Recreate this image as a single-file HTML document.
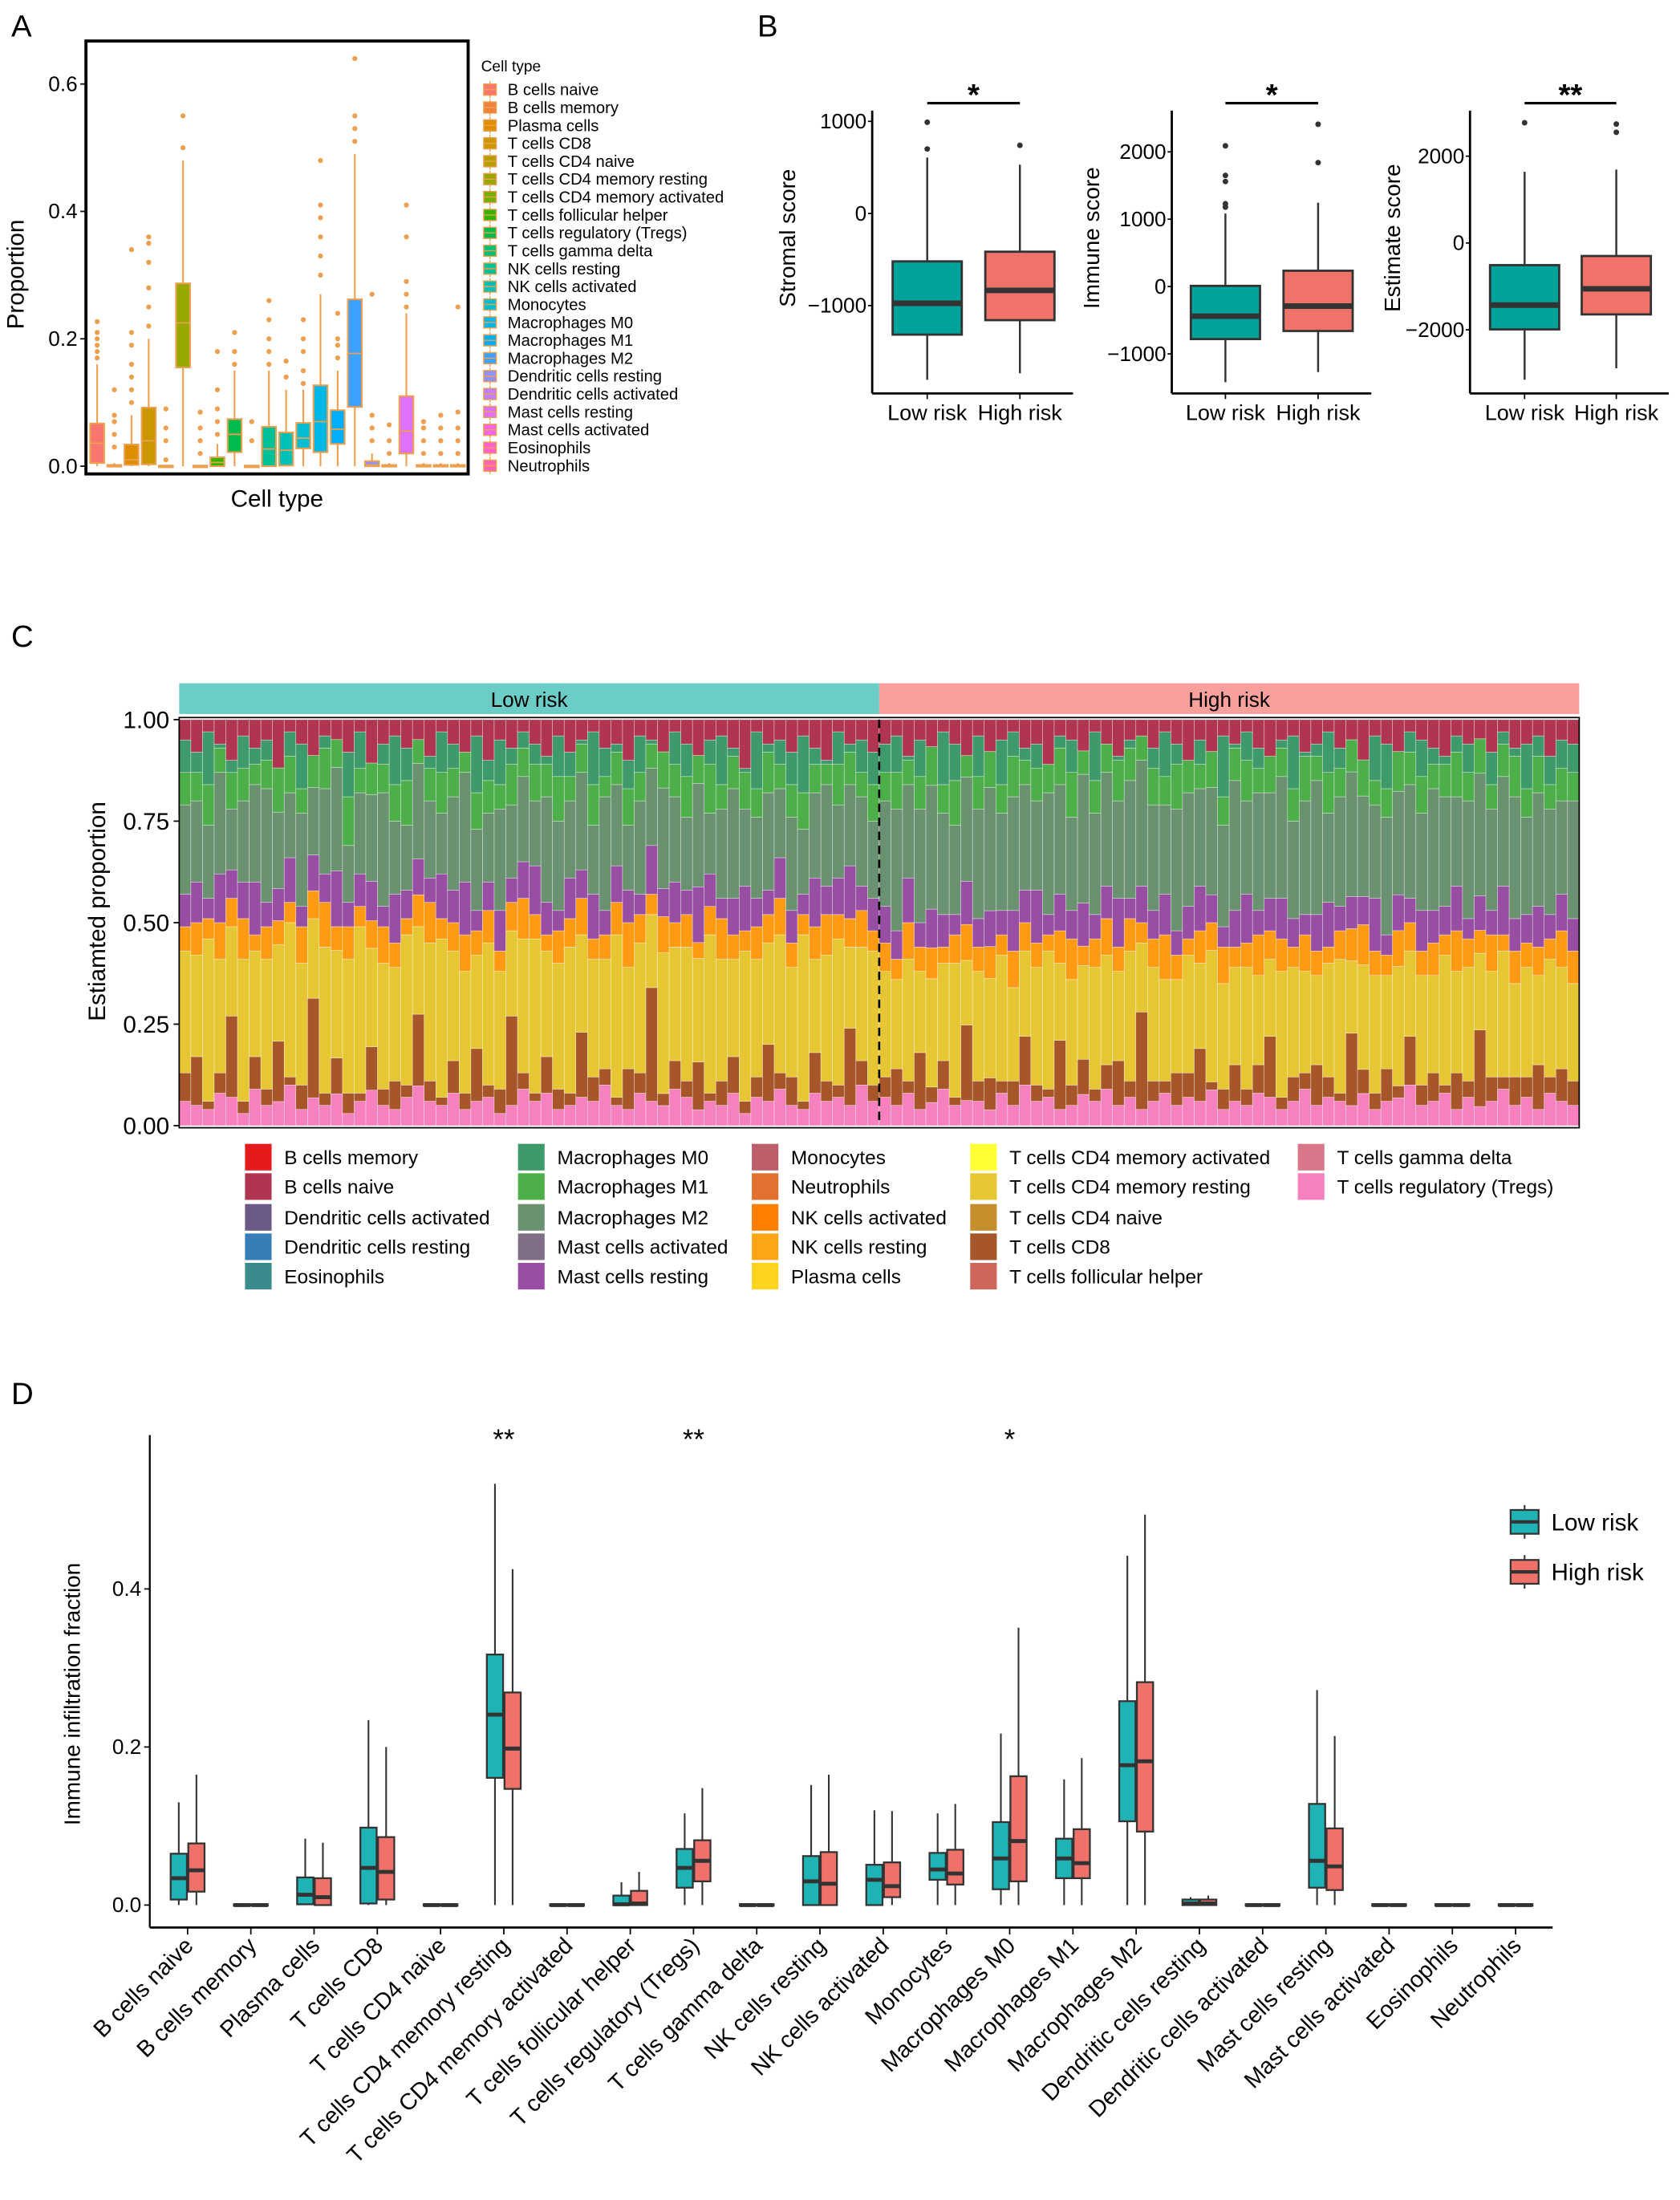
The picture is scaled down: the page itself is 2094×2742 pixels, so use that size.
<!DOCTYPE html>
<html><head><meta charset="utf-8"><style>
html,body{margin:0;padding:0;background:#fff}
svg{display:block;font-family:"Liberation Sans",Arial,sans-serif}
</style></head><body>
<svg id="fig" width="2094" height="2742" viewBox="0 0 1200 1571.35" preserveAspectRatio="none" xmlns="http://www.w3.org/2000/svg">
<rect width="1200" height="1571.35" fill="#fff"/>
<g id="pA"></g>
<g id="pB"></g>
<g id="pC"></g>
<g id="pD"></g>
</svg>
<script>
// ---------- Panel A data ----------
const cellTypes = ["B cells naive","B cells memory","Plasma cells","T cells CD8","T cells CD4 naive","T cells CD4 memory resting","T cells CD4 memory activated","T cells follicular helper","T cells regulatory (Tregs)","T cells gamma delta","NK cells resting","NK cells activated","Monocytes","Macrophages M0","Macrophages M1","Macrophages M2","Dendritic cells resting","Dendritic cells activated","Mast cells resting","Mast cells activated","Eosinophils","Neutrophils"];
const aQ1  = [.005,0,.002,.003,0,.155,0,0,.022,0,0,.001,.028,.022,.035,.093,0,0,.02,0,0,0];
const aMed = [.036,0,.01,.04,0,.225,0,.006,.05,0,.027,.025,.044,.07,.058,.177,.002,0,.055,0,0,0];
const aQ3  = [.067,.002,.034,.092,.001,.287,.001,.014,.074,.001,.062,.053,.068,.127,.088,.262,.008,.002,.11,.002,.002,.002];
const aMax = [.16,.005,.08,.2,.002,.48,.002,.035,.15,.002,.15,.12,.12,.27,.15,.49,.02,.005,.24,.005,.005,.005];
const aOut = [[.17,.18,.19,.2,.21,.227],[.03,.05,.07,.08,.12],[.1,.12,.14,.16,.19,.21,.34],[.22,.25,.28,.32,.35,.36],[.01,.04,.06,.09],[.5,.55],[.02,.04,.06,.085],[.05,.07,.09,.12,.18],[.16,.18,.21],[.04,.07],[.16,.18,.2,.23,.26],[.14,.165],[.13,.15,.18,.2,.23],[.3,.33,.36,.39,.41,.48],[.17,.19,.2,.24],[.51,.53,.55,.64],[.04,.06,.08,.27],[.02,.04,.065],[.25,.27,.29,.36,.41],[.02,.04,.06,.07],[.02,.04,.06,.08],[.02,.04,.06,.085,.25]];
const aTicks = [0,0.2,0.4,0.6];

// ---------- Panel B data ----------
const bTitles = ["Stromal score","Immune score","Estimate score"];
const bStars = ["*","*","**"];
const bGroups = ["Low risk","High risk"];
const bLowStats  = [[-1805,-1315,-975,-520,607],[-1420,-780,-440,10,1085],[-3150,-1990,-1430,-510,1640]];
const bHighStats = [[-1735,-1158,-835,-415,530],[-1270,-660,-290,235,1245],[-2885,-1645,-1055,-300,1690]];
const bLowOut  = [[990,700],[2090,1650,1560,1230,1180],[2770]];
const bHighOut = [[740],[2410,1840],[2740,2550]];
const bTicks = [[-1000,0,1000],[-1000,0,1000,2000],[-2000,0,2000]];

// ---------- Panel C data (per-sample fractions) ----------
const cTregs = [.06,.05,.04,.08,.07,.03,.09,.05,.06,.10,.04,.07,.05,.08,.03,.06,.09,.05,.04,.07,.10,.06,.05,.08,.04,.06,.07,.03,.05,.09,.06,.08,.04,.05,.07,.06,.10,.05,.04,.08,.06,.05,.09,.07,.04,.06,.05,.08,.03,.07,.06,.09,.05,.04,.08,.06,.07,.05,.10,.06,
.07,.05,.08,.04,.06,.09,.05,.07,.06,.04,.08,.05,.10,.06,.07,.04,.05,.08,.06,.09,.05,.07,.04,.06,.08,.05,.07,.06,.09,.04,.06,.05,.08,.07,.04,.06,.09,.05,.07,.06,.05,.08,.04,.06,.07,.10,.05,.06,.08,.04,.07,.05,.06,.09,.05,.07,.04,.08,.06,.05];
const cCD8 = [.07,.12,.02,.05,.20,.03,.08,.04,.15,.02,.06,.25,.03,.09,.05,.02,.11,.04,.07,.03,.18,.05,.02,.08,.04,.13,.03,.06,.22,.04,.02,.09,.05,.03,.16,.06,.04,.02,.10,.05,.28,.03,.07,.04,.12,.02,.06,.09,.03,.05,.14,.04,.07,.02,.10,.05,.03,.19,.06,.04,
.05,.09,.03,.14,.04,.07,.02,.21,.05,.08,.03,.06,.12,.04,.02,.17,.05,.09,.03,.06,.11,.04,.24,.05,.03,.08,.06,.13,.02,.05,.09,.04,.07,.15,.03,.06,.04,.10,.05,.02,.18,.06,.04,.08,.03,.12,.05,.07,.02,.09,.04,.20,.06,.03,.07,.05,.11,.04,.08,.06];
const cCD4r = [.30,.25,.40,.28,.22,.35,.26,.32,.24,.38,.30,.20,.36,.27,.33,.41,.25,.31,.28,.37,.22,.34,.39,.27,.30,.23,.35,.29,.21,.33,.38,.26,.31,.36,.24,.29,.27,.40,.25,.32,.18,.35,.28,.33,.26,.39,.30,.24,.37,.29,.25,.34,.27,.41,.23,.31,.36,.20,.28,.33,
.26,.22,.30,.20,.28,.24,.33,.18,.27,.25,.31,.23,.21,.29,.34,.19,.26,.24,.30,.27,.22,.32,.17,.28,.25,.23,.29,.21,.33,.26,.24,.30,.22,.19,.31,.27,.25,.22,.28,.33,.18,.26,.29,.23,.30,.21,.27,.24,.32,.25,.28,.20,.26,.31,.23,.27,.22,.29,.25,.24];
const cNK = [.06,.08,.05,.09,.07,.10,.04,.08,.06,.05,.09,.07,.11,.06,.08,.05,.07,.09,.06,.04,.08,.10,.05,.07,.09,.06,.08,.05,.07,.10,.06,.04,.08,.07,.09,.05,.06,.08,.11,.07,.05,.09,.06,.08,.04,.07,.10,.06,.05,.08,.07,.09,.06,.05,.08,.10,.06,.07,.09,.05,
.07,.05,.09,.06,.08,.04,.07,.10,.06,.08,.05,.09,.07,.06,.04,.08,.10,.05,.07,.09,.06,.08,.05,.07,.11,.06,.04,.08,.07,.09,.05,.06,.10,.07,.08,.05,.09,.06,.04,.07,.08,.10,.06,.05,.09,.07,.06,.08,.05,.10,.07,.06,.09,.04,.08,.06,.07,.05,.09,.08];
const cMast = [.08,.10,.05,.12,.07,.09,.13,.06,.08,.11,.05,.09,.07,.14,.06,.08,.10,.05,.12,.07,.09,.06,.11,.08,.13,.05,.07,.10,.06,.09,.12,.08,.05,.10,.07,.11,.06,.09,.08,.05,.12,.07,.10,.06,.14,.08,.05,.09,.11,.07,.06,.10,.08,.05,.12,.07,.09,.13,.06,.08,
.09,.07,.11,.06,.10,.08,.05,.12,.07,.09,.06,.10,.08,.13,.05,.09,.07,.11,.06,.08,.12,.05,.09,.07,.10,.06,.08,.11,.07,.05,.09,.12,.06,.08,.10,.07,.05,.09,.11,.06,.08,.07,.13,.05,.09,.06,.10,.08,.07,.11,.05,.09,.06,.12,.08,.07,.10,.06,.09,.08];
const cM2 = [.22,.20,.18,.25,.15,.20,.24,.28,.19,.16,.23,.17,.21,.26,.14,.20,.22,.28,.18,.16,.24,.19,.15,.23,.27,.20,.17,.25,.18,.21,.16,.26,.22,.19,.24,.17,.28,.20,.16,.23,.19,.25,.21,.18,.26,.15,.22,.27,.19,.20,.24,.17,.23,.16,.21,.25,.18,.20,.22,.19,
.26,.30,.23,.28,.32,.25,.22,.29,.27,.31,.24,.28,.26,.22,.30,.27,.23,.33,.25,.28,.24,.29,.31,.26,.22,.30,.28,.24,.27,.25,.32,.23,.29,.26,.30,.24,.28,.33,.22,.27,.31,.25,.23,.29,.26,.28,.24,.30,.27,.22,.29,.32,.25,.27,.30,.24,.28,.26,.23,.29];
const cM1 = [.08,.07,.10,.06,.09,.08,.05,.07,.11,.09,.06,.08,.10,.07,.12,.06,.08,.07,.09,.11,.06,.08,.10,.07,.05,.09,.08,.06,.10,.07,.09,.08,.11,.06,.07,.10,.05,.08,.09,.07,.06,.09,.08,.10,.07,.12,.06,.08,.09,.07,.10,.06,.08,.09,.07,.05,.10,.08,.06,.09,
.07,.09,.06,.08,.10,.07,.11,.06,.08,.09,.07,.10,.06,.08,.07,.09,.11,.06,.08,.07,.10,.08,.06,.09,.07,.11,.08,.06,.09,.07,.08,.10,.06,.09,.07,.08,.11,.06,.10,.07,.08,.09,.06,.07,.10,.08,.09,.06,.08,.11,.07,.09,.06,.08,.10,.07,.09,.06,.08,.07];
const cBn = [.05,.08,.03,.06,.10,.04,.07,.05,.12,.03,.06,.09,.04,.05,.08,.03,.11,.06,.04,.07,.05,.09,.03,.06,.08,.04,.10,.05,.07,.03,.06,.09,.04,.08,.05,.03,.07,.06,.10,.04,.05,.08,.03,.06,.09,.05,.04,.07,.12,.03,.06,.05,.08,.04,.07,.10,.03,.06,.05,.08,
.06,.04,.09,.05,.07,.03,.06,.10,.04,.08,.05,.03,.07,.06,.11,.04,.05,.08,.03,.06,.09,.05,.04,.07,.03,.06,.10,.05,.08,.04,.06,.03,.07,.09,.05,.04,.08,.06,.03,.07,.05,.10,.04,.06,.08,.03,.05,.07,.09,.04,.06,.05,.08,.03,.07,.06,.04,.09,.05,.06];
const cLowCount = 60;
const cTicks = [0,0.25,0.5,0.75,1];
const cLegendNames = ["B cells memory","B cells naive","Dendritic cells activated","Dendritic cells resting","Eosinophils","Macrophages M0","Macrophages M1","Macrophages M2","Mast cells activated","Mast cells resting","Monocytes","Neutrophils","NK cells activated","NK cells resting","Plasma cells","T cells CD4 memory activated","T cells CD4 memory resting","T cells CD4 naive","T cells CD8","T cells follicular helper","T cells gamma delta","T cells regulatory (Tregs)"];
const cLegendColors = ["#E41A1C","#B03550","#6B5A88","#377EB8","#3A8C8C","#3E9A6B","#4DAF4A","#6A9170","#7F6E85","#984EA3","#BC5F6B","#E2712F","#FF7F00","#FFA617","#FFD420","#FFFF33","#E6C733","#C78E2C","#A65628","#CE6659","#D8768A","#F781BF"];

// ---------- Panel D data ----------
const dCats = cellTypes;
const dLow = {
 min:[0,0,0,0,0,0,0,0,0,0,0,0,0,0,0,0,0,0,0,0,0,0],
 q1:[.007,0,.001,.002,0,.161,0,0,.022,0,0,0,.032,.02,.034,.106,0,0,.022,0,0,0],
 med:[.034,0,.013,.047,0,.241,0,.001,.047,0,.03,.032,.045,.059,.059,.177,.002,0,.056,0,0,0],
 q3:[.065,.001,.035,.098,.001,.317,.001,.012,.071,.001,.062,.051,.066,.105,.084,.258,.007,.001,.128,.001,.001,.001],
 max:[.13,.002,.084,.234,.002,.533,.002,.029,.116,.002,.152,.12,.116,.217,.159,.442,.01,.002,.272,.002,.002,.002]};
const dHigh = {
 min:[0,0,0,0,0,0,0,0,0,0,0,0,0,0,0,0,0,0,0,0,0,0],
 q1:[.017,0,0,.007,0,.147,0,0,.03,0,0,.01,.026,.03,.034,.093,0,0,.019,0,0,0],
 med:[.044,0,.01,.042,0,.198,0,.002,.056,0,.027,.024,.04,.081,.053,.182,.002,0,.049,0,0,0],
 q3:[.078,.001,.034,.086,.001,.269,.001,.018,.082,.001,.067,.054,.07,.163,.096,.282,.007,.001,.097,.001,.001,.001],
 max:[.165,.002,.079,.2,.002,.425,.002,.042,.148,.002,.165,.119,.128,.351,.186,.494,.012,.002,.214,.002,.002,.002]};
const dStars = {5:"**",8:"**",13:"*"};
const dTicks = [0,0.2,0.4];

// ---------- helpers ----------
const NS="http://www.w3.org/2000/svg";
function mk(parent,tag,attrs,text){const e=document.createElementNS(NS,tag);for(const k in attrs)e.setAttribute(k,attrs[k]);if(text!==undefined)e.textContent=text;parent.appendChild(e);return e;}
function hcl(h,c,l){const hr=h*Math.PI/180,U=c*Math.cos(hr),V=c*Math.sin(hr);const Y=l>8?Math.pow((l+16)/116,3):l/903.3;const un=0.1978398,vn=0.4683363;const u=U/(13*l)+un,v=V/(13*l)+vn;const X=Y*9*u/(4*v),Z=Y*(12-3*u-20*v)/(4*v);let r=3.2404542*X-1.5371385*Y-0.4985314*Z,g=-0.969266*X+1.8760108*Y+0.041556*Z,b=0.0556434*X-0.2040259*Y+1.0572252*Z;const gm=x=>{x=x<=0.0031308?12.92*x:1.055*Math.pow(x,1/2.4)-0.055;return Math.round(Math.max(0,Math.min(1,x))*255);};return `rgb(${gm(r)},${gm(g)},${gm(b)})`;}
const fmt=v=>v<0?"\u2212"+Math.abs(v):String(v);

// ================= Panel A =================
(function(){
 const g=document.getElementById('pA');
 let t=mk(g,'text',{x:8,y:26,'font-size':22},'A');
 
 
 const L=61.4,R=334.4,T=29.3,B=338.5;
 const y=v=>333-v*455;
 const step=12.27,x0=69.4;
 const x=i=>x0+i*step;
 const orange="#EDA04F";
 aTicks.forEach(v=>{
  const tl=mk(g,'text',{x:L-6,y:y(v)+5,'font-size':15,'text-anchor':'end'},v.toFixed(1));
  
  
  mk(g,'line',{x1:L-4,x2:L,y1:y(v),y2:y(v),stroke:'#000','stroke-width':1});
 });
 cellTypes.forEach((n,i)=>{
  const col=hcl(15+i*360/23,100,65);
  const cx=x(i);
  const grp=mk(g,'g',{});
  
  
  mk(grp,'line',{x1:cx,x2:cx,y1:y(aMax[i]),y2:y(0),stroke:orange,'stroke-width':1.2});
  mk(grp,'rect',{x:cx-5,y:y(aQ3[i]),width:10,height:Math.max(1.2,y(aQ1[i])-y(aQ3[i])),fill:col,stroke:orange,'stroke-width':1.2});
  mk(grp,'line',{x1:cx-5,x2:cx+5,y1:y(aMed[i]),y2:y(aMed[i]),stroke:orange,'stroke-width':1});
  aOut[i].forEach(v=>mk(grp,'circle',{cx:cx,cy:y(v),r:1.8,fill:orange}));
 });
 const fr=mk(g,'rect',{x:L,y:T,width:R-L,height:B-T,fill:'none',stroke:'#000','stroke-width':2.2});
 
 
 t=mk(g,'text',{x:(L+R)/2,y:362,'font-size':17,'text-anchor':'middle'},'Cell type');
 
 
 t=mk(g,'text',{x:0,y:0,'font-size':17,'text-anchor':'middle',transform:'translate(17,196) rotate(-90)'},'Proportion');
 
 
 t=mk(g,'text',{x:343.6,y:51,'font-size':11},'Cell type');
 
 
 cellTypes.forEach((n,i)=>{
  const yy=64+i*12.79;
  const e=mk(g,'g',{});
  
  
  mk(e,'line',{x1:350,x2:350,y1:yy-6,y2:yy+6,stroke:orange,'stroke-width':0.8});
  mk(e,'rect',{x:345.5,y:yy-4,width:9,height:8,fill:hcl(15+i*360/23,100,65),stroke:orange,'stroke-width':0.8});
  mk(e,'line',{x1:345.5,x2:354.5,y1:yy,y2:yy,stroke:orange,'stroke-width':0.8});
  mk(e,'text',{x:362.6,y:yy+4,'font-size':11.6},n);
 });
})();

// ================= Panel B =================
(function(){
 const g=document.getElementById('pB');
 let t=mk(g,'text',{x:541,y:26,'font-size':22},'B');
 
 
 const axX=[623,837,1050], axEnd=[766.5,979.5,1192];
 const zero=[745,1000,848], per=[0.3215,0.235,0.1515];
 const centers=[[662.3,728.5],[875.3,941.5],[1089,1154.5]];
 const titleX=[562,779,994];
 for(let p=0;p<3;p++){
  const sub=mk(g,'g',{});
  
  
  const y=v=>(zero[p]-v*per[p])/4.886;
  mk(sub,'line',{x1:axX[p],x2:axX[p],y1:79,y2:281,stroke:'#000','stroke-width':1.6});
  mk(sub,'line',{x1:axX[p],x2:axEnd[p],y1:281,y2:281,stroke:'#000','stroke-width':1.6});
  bTicks[p].forEach(v=>{
   mk(sub,'line',{x1:axX[p]-3,x2:axX[p],y1:y(v),y2:y(v),stroke:'#000','stroke-width':1});
   const tl=mk(sub,'text',{x:axX[p]-4,y:y(v)+5,'font-size':15,'text-anchor':'end'},fmt(v));
   
   
  });
  const tt=mk(sub,'text',{x:0,y:0,'font-size':16,'text-anchor':'middle',transform:`translate(${titleX[p]+6},170) rotate(-90)`},bTitles[p]);
  
  
  [bLowStats[p],bHighStats[p]].forEach((s,k)=>{
   const cx=centers[p][k], hw=24.7;
   const bx=mk(sub,'g',{});
   
   
   mk(bx,'line',{x1:cx,x2:cx,y1:y(s[4]),y2:y(s[0]),stroke:'#333','stroke-width':1.4});
   mk(bx,'rect',{x:cx-hw,y:y(s[3]),width:2*hw,height:y(s[1])-y(s[3]),fill:k?'#F0736A':'#00A39B',stroke:'#333','stroke-width':1.6});
   mk(bx,'line',{x1:cx-hw,x2:cx+hw,y1:y(s[2]),y2:y(s[2]),stroke:'#333','stroke-width':4});
   (k?bHighOut[p]:bLowOut[p]).forEach(v=>mk(bx,'circle',{cx:cx,cy:y(v),r:2,fill:'#333'}));
   mk(sub,'line',{x1:cx,x2:cx,y1:281,y2:285,stroke:'#000','stroke-width':1});
   const xl=mk(sub,'text',{x:cx,y:300,'font-size':15.5,'text-anchor':'middle'},bGroups[k]);
   
   
  });
  const sl=mk(sub,'line',{x1:centers[p][0],x2:centers[p][1],y1:73.7,y2:73.7,stroke:'#000','stroke-width':1.8});
  
  
  const st=mk(sub,'text',{x:(centers[p][0]+centers[p][1])/2,y:75,'font-size':22,'text-anchor':'middle','font-weight':'bold'},bStars[p]);
  
  
 }
})();

// ================= Panel C =================
(function(){
 const g=document.getElementById('pC');
 let t=mk(g,'text',{x:8,y:462,'font-size':22},'C');
 
 
 const L=128,R=1128,T=514,B=804;
 const y=v=>B-v*(B-T);
 const n=cTregs.length;
 const bw=(R-L)/n;
 const xb=i=>L+i*bw;
 const splitX=xb(cLowCount);
 let a=mk(g,'rect',{x:L,y:488,width:splitX-L,height:22,fill:'#6CCDC6'});
 
 
 a=mk(g,'rect',{x:splitX,y:488,width:R-splitX,height:22,fill:'#F8A09C'});
 
 
 t=mk(g,'text',{x:(L+splitX)/2,y:505,'font-size':15,'text-anchor':'middle'},'Low risk');
  
 t=mk(g,'text',{x:(splitX+R)/2,y:505,'font-size':15,'text-anchor':'middle'},'High risk');
  
 const layers=[[cTregs,"#F781BF"],[cCD8,"#A65628"],[cCD4r,"#E6C733"],[cNK,"#FF9A12"],[cMast,"#984EA3"],[cM2,"#6A9170"],[cM1,"#4DAF4A"],[null,"#3E9A6B"],[cBn,"#B03550"]];
 for(let i=0;i<n;i++){
  let sum=0;layers.forEach(l=>{if(l[0])sum+=l[0][i];});
  const scale=sum>1?1/sum:1;
  const rem=Math.max(0,1-sum*scale);
  let acc=0;
  const bar=mk(g,'g',{});
  
  
  layers.forEach(l=>{
   const v=l[0]?l[0][i]*scale:rem;
   mk(bar,'rect',{x:xb(i),y:y(acc+v),width:bw,height:y(acc)-y(acc+v),fill:l[1],stroke:'#fff','stroke-width':0.35,'stroke-opacity':0.6});
   acc+=v;
  });
 }
 mk(g,'rect',{x:L,y:T-1.5,width:R-L,height:B-T+3,fill:'none',stroke:'#000','stroke-width':1});
 mk(g,'line',{x1:splitX,x2:splitX,y1:T,y2:B,stroke:'#000','stroke-width':1.5,'stroke-dasharray':'6,4'});
 cTicks.forEach(v=>{
  mk(g,'line',{x1:L-4,x2:L,y1:y(v),y2:y(v),stroke:'#000','stroke-width':1});
  const tl=mk(g,'text',{x:L-7,y:y(v)+6,'font-size':17,'text-anchor':'end'},v.toFixed(2));
  
  
 });
 t=mk(g,'text',{x:0,y:0,'font-size':17,'text-anchor':'middle',transform:'translate(75,651) rotate(-90)'},'Estiamted proportion');
  
 const colX=[175,370,537,693,927], rowY=[826,847,869,890,911];
 const perCol=[5,5,5,5,2];
 let k=0;
 perCol.forEach((cnt,c)=>{for(let r=0;r<cnt;r++){
  const e=mk(g,'g',{});
  
  
  mk(e,'rect',{x:colX[c],y:rowY[r]-9,width:19,height:19,fill:cLegendColors[k]});
  mk(e,'text',{x:colX[c]+28,y:rowY[r]+5.5,'font-size':14},cLegendNames[k]);
  k++;
 }});
})();

// ================= Panel D =================
(function(){
 const g=document.getElementById('pD');
 let t=mk(g,'text',{x:8,y:1003,'font-size':22},'D');
 
 
 const L=107,R=1109,Ax=1376.7;
 const y=v=>1360.7-v*564.5;
 const x=i=>134+i*45.17;
 mk(g,'line',{x1:L,x2:L,y1:1025,y2:Ax,stroke:'#000','stroke-width':1.3});
 mk(g,'line',{x1:L,x2:R,y1:Ax,y2:Ax,stroke:'#000','stroke-width':1.6});
 dTicks.forEach(v=>{
  mk(g,'line',{x1:L-4,x2:L,y1:y(v),y2:y(v),stroke:'#000','stroke-width':1});
  const tl=mk(g,'text',{x:L-6,y:y(v)+5,'font-size':15,'text-anchor':'end'},v.toFixed(1));
  
  
 });
 t=mk(g,'text',{x:0,y:0,'font-size':16,'text-anchor':'middle',transform:'translate(57,1210) rotate(-90)'},'Immune infiltration fraction');
  
 dCats.forEach((n,i)=>{
  const cx=x(i);
  [[dLow,-6.3,'#1FB3B5'],[dHigh,6.3,'#F0716A']].forEach(([s,off,col],k)=>{
   const bx=mk(g,'g',{});
   
   
   const c=cx+off,hw=5.8;
   mk(bx,'line',{x1:c,x2:c,y1:y(s.max[i]),y2:y(s.min[i]),stroke:'#333','stroke-width':1.2});
   mk(bx,'rect',{x:c-hw,y:y(s.q3[i]),width:2*hw,height:Math.max(1,y(s.q1[i])-y(s.q3[i])),fill:col,stroke:'#333','stroke-width':1.3});
   mk(bx,'line',{x1:c-hw,x2:c+hw,y1:y(s.med[i]),y2:y(s.med[i]),stroke:'#333','stroke-width':2.8});
  });
  mk(g,'line',{x1:cx,x2:cx,y1:Ax,y2:Ax+5,stroke:'#000','stroke-width':1});
  const tl=mk(g,'text',{x:0,y:0,'font-size':16.5,'text-anchor':'end',transform:`translate(${cx+5},${Ax+14}) rotate(-45)`},n);
  
  
  if(dStars[i]){
   const st=mk(g,'text',{x:cx,y:1035,'font-size':20,'text-anchor':'middle'},dStars[i]);
   
   
  }
 });
 [["Low risk","#1FB3B5",1087],["High risk","#F0716A",1122.7]].forEach(([lab,col,yy])=>{
  const e=mk(g,'g',{});
  
  
  mk(e,'line',{x1:1089,x2:1089,y1:yy-12,y2:yy+12,stroke:'#333','stroke-width':1.2});
  mk(e,'rect',{x:1079,y:yy-8.5,width:20,height:17,fill:col,stroke:'#333','stroke-width':1.3});
  mk(e,'line',{x1:1079,x2:1099,y1:yy,y2:yy,stroke:'#333','stroke-width':2.4});
  mk(e,'text',{x:1108,y:yy+6,'font-size':17},lab);
 });
})();
</script>
</body></html>
